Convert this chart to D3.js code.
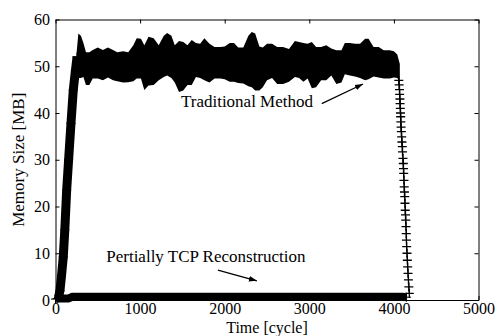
<!DOCTYPE html>
<html>
<head>
<meta charset="utf-8">
<script src="https://cdn.jsdelivr.net/npm/d3@7/dist/d3.min.js"></script>
<style>
  body { margin: 0; background: #fff; }
  svg { display: block; font-family: "Liberation Serif", "Times New Roman", serif; }
</style>
</head>
<body>
<svg id="chart"></svg>
<script>
// ---- data ----
const xTicks = [0, 1000, 2000, 3000, 4000, 5000]
const yTicks = [0, 10, 20, 30, 40, 50, 60]

// Traditional Method: ramp up
const upCycles = [35, 53, 70, 92, 110, 132, 155, 183, 210, 235, 255]
const upValues = [0.5, 2, 5, 9.2, 15, 23.5, 30, 37.8, 44.9, 49, 52]

// Traditional Method: noisy plateau, upper / lower envelope of the marks
const bandCycles = [250, 270, 300, 330, 360, 400, 440, 500, 560, 620, 680, 730, 800, 860, 920, 960,
  1010, 1050, 1100, 1160, 1220, 1280, 1320, 1370, 1410, 1460, 1510, 1560, 1610, 1660, 1710, 1760, 1820, 1880, 1950,
  2000, 2060, 2110, 2160, 2220, 2280, 2320, 2360, 2410, 2450, 2500, 2560, 2620, 2690, 2760, 2830, 2880, 2930, 2980,
  3030, 3080, 3140, 3200, 3260, 3320, 3380, 3420, 3480, 3540, 3600, 3660, 3700, 3760, 3820, 3880, 3950,
  4000, 4040, 4070]
const bandUpper = [53, 57, 56.5, 55, 53, 53, 53.5, 54, 53.5, 54, 53.5, 53, 53.2, 53, 54.5, 56,
  55.9, 54.5, 56.3, 56, 54.5, 56.5, 57.1, 56.5, 54.5, 55.4, 55.2, 54.5, 55.6, 55, 54.8, 56, 54.8, 54.1, 54.1,
  54.2, 55, 55, 54, 54, 56.5, 57.3, 57, 54.2, 54, 54.8, 54.8, 54.1, 54.1, 53.7, 55.4, 55.2, 55, 54.8,
  55.2, 54.1, 54.1, 54.5, 53.8, 53.4, 53.4, 55, 55, 54.8, 54.8, 55.9, 55.9, 54.1, 54.1, 53.4, 53.4,
  53.2, 52.5, 50.5]
const bandLower = [47, 47.5, 47.5, 47.7, 46, 46, 47.4, 47.4, 47, 47.6, 47, 46.8, 46.5, 46.6, 46.8, 47.4,
  47.4, 44.9, 45.9, 46, 47, 47.7, 48, 47.5, 46.5, 44.5, 44.8, 46, 46, 47.7, 47.5, 47, 46.5, 47.4, 47.4,
  47.2, 46.7, 46.7, 46.4, 46.3, 45.7, 45.5, 44.8, 44.8, 45.5, 47, 47.5, 46.2, 46.2, 46.7, 47.7, 47.5, 46.7, 47.4,
  45.3, 45.5, 47, 47, 48, 46.2, 46.5, 48.3, 48, 47.8, 47.5, 47, 47.2, 47.8, 47.6, 47.4, 47.4,
  47.6, 47.5, 46.5]

// Traditional Method: ramp down
const downCycles = [4058, 4062, 4066, 4068, 4071, 4073, 4076, 4078, 4080, 4082, 4085, 4088, 4092, 4095, 4099,
  4102, 4107, 4111, 4113, 4116, 4119, 4122, 4125, 4128, 4131, 4134, 4137, 4140, 4143, 4146, 4148, 4151,
  4155, 4159, 4163, 4167, 4172, 4177, 4182]
const downValues = [47, 46, 45, 44, 43, 42, 41, 40, 39.2, 38.1, 37, 36, 34.9, 33.8, 32.8,
  31.7, 30.3, 29.2, 28.1, 27.1, 25.6, 24.2, 23.1, 22.1, 20.7, 19.2, 18.2, 17.1, 15.7, 14.2, 12.8, 11.4,
  10, 8.5, 7.1, 5.7, 4.3, 2.8, 1.4]

// Pertially TCP Reconstruction
const tcpCycles = [0, 20, 80, 150, 200, 500, 1000, 1500, 2000, 2500, 3000, 3500, 4000, 4100, 4150]
const tcpValues = [0.2, 0.3, 0.3, 0.3, 0.7, 0.7, 0.7, 0.7, 0.7, 0.7, 0.7, 0.7, 0.7, 0.7, 0.6]

// annotations: text position, arrow from / to, in data units
const notes = [
  {text: 'Traditional Method', anchor: 'end', at: [3044, 41.2], from: [3147, 42.0], to: [3635, 46.2]},
  {text: 'Pertially TCP Reconstruction', anchor: 'start', at: [600, 8.1], from: [1920, 6.4], to: [2380, 4.1]},
]

// ---- chart ----
const width = 499
const height = 336
const margin = {top: 19.5, right: 20.5, bottom: 36, left: 55.5}
const font = '"Liberation Serif", "Times New Roman", serif'
const fontSize = 17
const tickFontSize = 16

const svg = d3.select('svg#chart')
  .attr('width', width)
  .attr('height', height)
  .attr('viewBox', `0 0 ${width} ${height}`)

svg.append('defs').append('marker')
    .attr('id', 'head')
    .attr('viewBox', '0 0 10 10')
    .attr('refX', 10).attr('refY', 5)
    .attr('markerWidth', 8).attr('markerHeight', 8)
    .attr('markerUnits', 'userSpaceOnUse')
    .attr('orient', 'auto')
  .append('path')
    .attr('d', 'M0,1.5L10,5L0,8.5Z')
    .attr('fill', '#000')

const x = d3.scaleLinear()
    .domain([0, 5000])
    .range([margin.left, width - margin.right])

const y = d3.scaleLinear()
    .domain([0, 60])
    .range([height - margin.bottom, margin.top])

const zip = (cs, vs) => cs.map((c, i) => ({c, v: vs[i]}))
const up = zip(upCycles, upValues)
const down = zip(downCycles, downValues)
const tcp = zip(tcpCycles, tcpValues)
const band = bandCycles.map((c, i) => ({c, hi: bandUpper[i], lo: bandLower[i]}))

const line = d3.line().x(d => x(d.c)).y(d => y(d.v))
const plus = 'M-4.5,0H4.5M0,-4.5V4.5'

const plot = svg.append('g')

// bottom series: a solid strip of + marks
plot.append('path')
    .attr('d', line(tcp))
    .attr('fill', 'none')
    .attr('stroke', '#000')
    .attr('stroke-width', 8)

plot.append('g')
  .selectAll('path')
  .data([tcp[0], tcp[1], tcp[tcp.length - 1]])
  .join('path')
    .attr('transform', d => `translate(${x(d.c)},${y(d.v)})`)
    .attr('d', plus)
    .attr('stroke', '#000')

// traditional series
plot.append('path')
    .attr('d', d3.area().x(d => x(d.c)).y0(d => y(d.lo)).y1(d => y(d.hi))(band))
    .attr('fill', '#000')

plot.append('path')
    .attr('d', line(up.concat([{c: band[0].c, v: 50}])))
    .attr('fill', 'none')
    .attr('stroke', '#000')
    .attr('stroke-width', 9)

plot.append('path')
    .attr('d', line(down))
    .attr('fill', 'none')
    .attr('stroke', '#000')
    .attr('stroke-width', 1)

plot.append('g')
  .selectAll('path')
  .data(up.concat(down))
  .join('path')
    .attr('transform', d => `translate(${x(d.c)},${y(d.v)})`)
    .attr('d', plus)
    .attr('stroke', '#000')
    .attr('stroke-width', 1.3)

// axes, gnuplot style: box with inward ticks
const axes = svg.append('g')

axes.append('g')
    .attr('transform', `translate(0,${y(0)})`)
    .call(d3.axisBottom(x).tickValues(xTicks).tickFormat(d3.format('d'))
      .tickSize(-4).tickSizeOuter(0).tickPadding(3))

axes.append('g')
    .attr('transform', `translate(0,${y(60)})`)
    .call(d3.axisTop(x).tickValues(xTicks).tickSize(-4).tickSizeOuter(0).tickFormat(''))

axes.append('g')
    .attr('transform', `translate(${x(0)},0)`)
    .call(d3.axisLeft(y).tickValues(yTicks).tickFormat(d3.format('d'))
      .tickSize(-4).tickSizeOuter(0).tickPadding(5.5))

axes.append('g')
    .attr('transform', `translate(${x(5000)},0)`)
    .call(d3.axisRight(y).tickValues(yTicks).tickSize(-4).tickSizeOuter(0).tickFormat(''))

axes.selectAll(':scope > g')
    .attr('font-size', tickFontSize)
    .attr('font-family', font)
axes.selectAll('.tick text').attr('fill', '#000')
axes.selectAll('.domain, .tick line').attr('stroke', '#000')

svg.append('text')
    .attr('x', (x(0) + x(5000)) / 2)
    .attr('y', 332.5)
    .attr('text-anchor', 'middle')
    .attr('font-size', 16)
    .text('Time [cycle]')

svg.append('text')
    .attr('transform', `translate(24,${(y(0) + y(60)) / 2}) rotate(-90)`)
    .attr('text-anchor', 'middle')
    .attr('font-size', fontSize)
    .text('Memory Size [MB]')

// annotations
const note = svg.append('g')
  .selectAll('g')
  .data(notes)
  .join('g')

note.append('text')
    .attr('x', d => x(d.at[0]))
    .attr('y', d => y(d.at[1]))
    .attr('text-anchor', d => d.anchor)
    .attr('font-size', fontSize)
    .text(d => d.text)

note.append('line')
    .attr('x1', d => x(d.from[0])).attr('y1', d => y(d.from[1]))
    .attr('x2', d => x(d.to[0])).attr('y2', d => y(d.to[1]))
    .attr('stroke', '#000')
    .attr('stroke-width', 1.2)
    .attr('marker-end', 'url(#head)')
</script>
</body>
</html>
